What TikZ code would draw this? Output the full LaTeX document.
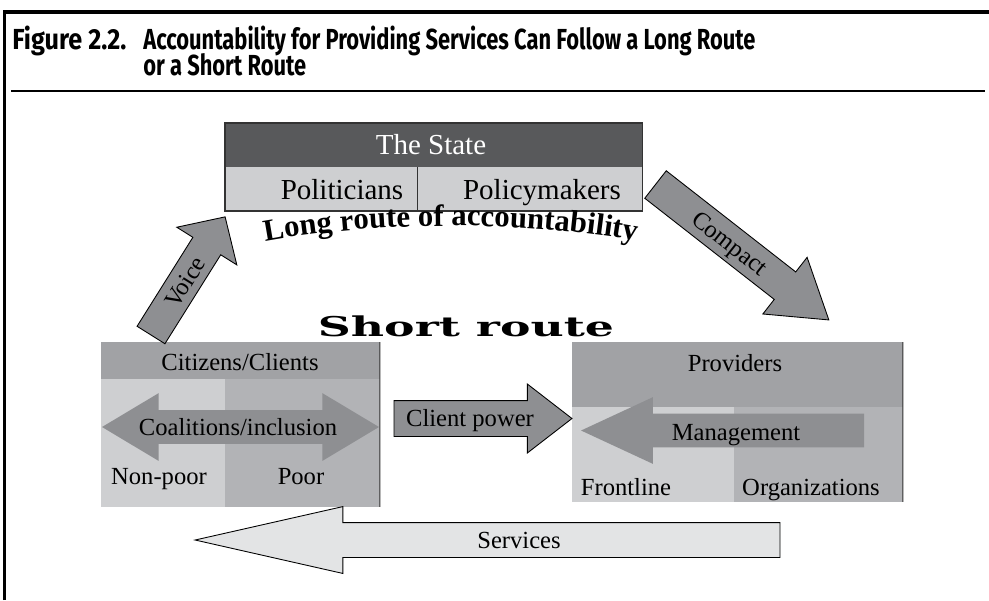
\documentclass[tikz,border=0pt]{standalone}
\usepackage{fontspec}
\setmainfont{Liberation Serif}
\newfontfamily\titlefont{Fira Sans}
\newfontfamily\routefont{DejaVu Serif}
\usetikzlibrary{shapes.arrows,decorations.text}

\begin{document}
\begin{tikzpicture}[x=0.02cm, y=-0.02cm]

\definecolor{statedark}{HTML}{58595B}
\definecolor{celllight}{HTML}{CECFD1}
\definecolor{cellmid}{HTML}{B2B3B6}
\definecolor{headgray}{HTML}{A1A2A5}
\definecolor{arrowgray}{HTML}{8E8F92}
\definecolor{servicefill}{HTML}{E3E4E5}

\tikzstyle{frameline}=[line width=1.8pt, color=black]
\tikzstyle{ruleline}=[line width=0.8pt, color=black]
\tikzstyle{boxcell}=[inner sep=0, outer sep=0, anchor=north west]
\tikzstyle{boxedge}=[line width=0.6pt, color=black!80]
\tikzstyle{celltext}=[inner sep=0, font=\fontsize{14}{16}\selectfont, text height=9.2pt, text depth=0pt]
\tikzstyle{statetext}=[inner sep=0, font=\fontsize{16.5}{19}\selectfont, text height=10.9pt, text depth=0pt]
\tikzstyle{titletext}=[inner sep=0, anchor=base west, font=\titlefont\bfseries\fontsize{16.5}{19}\selectfont]
\tikzstyle{blockarrow}=[single arrow, inner xsep=0, outer sep=0, anchor=tail, fill=arrowgray]
\tikzstyle{edgedarrow}=[blockarrow, draw=black, line width=0.5pt]

\def\arcfont{\bfseries\fontsize{17.5}{20}\selectfont}

\useasboundingbox (0,0) rectangle (989,600);

% frame and title
\draw[frameline] (4.5,600) -- (4.5,12) -- (989,12);
\node[titletext] (fignum) at (12,49) {\scalebox{0.87}[1]{Figure 2.2.}};
\node[titletext] (titleone) at (143,49) {\scalebox{0.755}[1]{Accountability for Providing Services Can Follow a Long Route}};
\node[titletext] (titletwo) at (143,75) {\scalebox{0.755}[1]{or a Short Route}};
\draw[ruleline] (11,91) -- (985,91);

% the state
\node[boxcell, fill=statedark, minimum width=8.36cm, minimum height=0.88cm] (statehead) at (225,123) {};
\node[boxcell, fill=celllight, minimum width=3.86cm, minimum height=0.88cm] (polcell) at (statehead.south west) {};
\node[boxcell, fill=celllight, minimum width=4.5cm, minimum height=0.88cm] (pmcell) at (polcell.north east) {};
\draw[boxedge] (statehead.north west) rectangle (pmcell.south east);
\draw[boxedge] (pmcell.north west) -- (pmcell.south west);
\node[statetext, text=white] (statename) at (431,145) {The State};
\node[statetext] (politicians) at (342,190) {Politicians};
\node[statetext] (policymakers) at (542,190) {Policymakers};

% citizens/clients
\node[boxcell, fill=headgray, minimum width=5.58cm, minimum height=0.74cm] (citizens) at (101,342) {};
\node[boxcell, fill=celllight, minimum width=2.48cm, minimum height=2.56cm] (nonpoorcell) at (citizens.south west) {};
\node[boxcell, fill=cellmid, minimum width=3.1cm, minimum height=2.56cm] (poorcell) at (nonpoorcell.north east) {};
\draw[boxedge] (citizens.north east) -- (poorcell.south east);
\node[double arrow, fill=arrowgray, inner xsep=0, inner ysep=0.33cm, minimum height=5.54cm,
      double arrow head extend=0.34cm, double arrow tip angle=61.8] (coalitions) at (240.5,427) {};
\node[celltext] (citizenslbl) at (240,362) {Citizens/Clients};
\node[celltext] (coalitionslbl) at (238,427) {Coalitions/inclusion};
\node[celltext] (nonpoor) at (159,476) {Non-poor};
\node[celltext] (poor) at (301,476) {Poor};

% providers
\node[boxcell, fill=headgray, minimum width=6.62cm, minimum height=1.3cm] (providers) at (572,342) {};
\node[boxcell, fill=celllight, minimum width=3.24cm, minimum height=1.9cm] (frontcell) at (providers.south west) {};
\node[boxcell, fill=cellmid, minimum width=3.38cm, minimum height=1.9cm] (orgcell) at (frontcell.north east) {};
\draw[boxedge] (providers.north east) -- (orgcell.south east);
\node[blockarrow, rotate=180, minimum height=5.66cm, inner ysep=0.33cm,
      single arrow head extend=0.33cm, single arrow tip angle=49.8] (management) at (864,430.5) {};
\node[celltext] (providerslbl) at (735,363) {Providers};
\node[celltext] (managementlbl) at (736,432) {Management};
\node[celltext] (frontline) at (626,487) {Frontline};
\node[celltext] (organizations) at (811,487) {Organizations};

% routes
\node[edgedarrow, rotate=57.9, minimum height=2.79cm, inner ysep=0.32cm,
      single arrow head extend=0.38cm, single arrow tip angle=91.6] (voice) at (151,335) {};
\node[celltext, rotate=57.9] (voicelbl) at (185,282) {Voice};
\node[edgedarrow, rotate=-38, minimum height=4.4cm, inner ysep=0.34cm,
      single arrow head extend=0.37cm, single arrow tip angle=65.7] (compact) at (655.5,184.5) {};
\node[celltext, rotate=-38] (compactlbl) at (730,243) {Compact};
\node[edgedarrow, minimum height=3.56cm, inner ysep=0.35cm,
      single arrow head extend=0.33cm, single arrow tip angle=75.4] (clientpower) at (394,418.5) {};
\node[celltext] (clientpowerlbl) at (470,418) {Client power};
\node[edgedarrow, fill=servicefill, rotate=180, minimum height=11.7cm, inner ysep=0.34cm,
      single arrow head extend=0.32cm, single arrow tip angle=25.5] (services) at (780,540) {};
\node[celltext] (serviceslbl) at (519,540) {Services};

\path[decorate, decoration={text along path, text align=center,
      text={|\arcfont|Long route of accountability}}]
  (252,244) .. controls (368,220) and (532,220) .. (650,243);
\node[inner sep=0] (shortroute) at (466,326) {\scalebox{1.68}[1]{\routefont\bfseries\fontsize{15.5}{18}\selectfont Short route}};

\end{tikzpicture}
\end{document}
